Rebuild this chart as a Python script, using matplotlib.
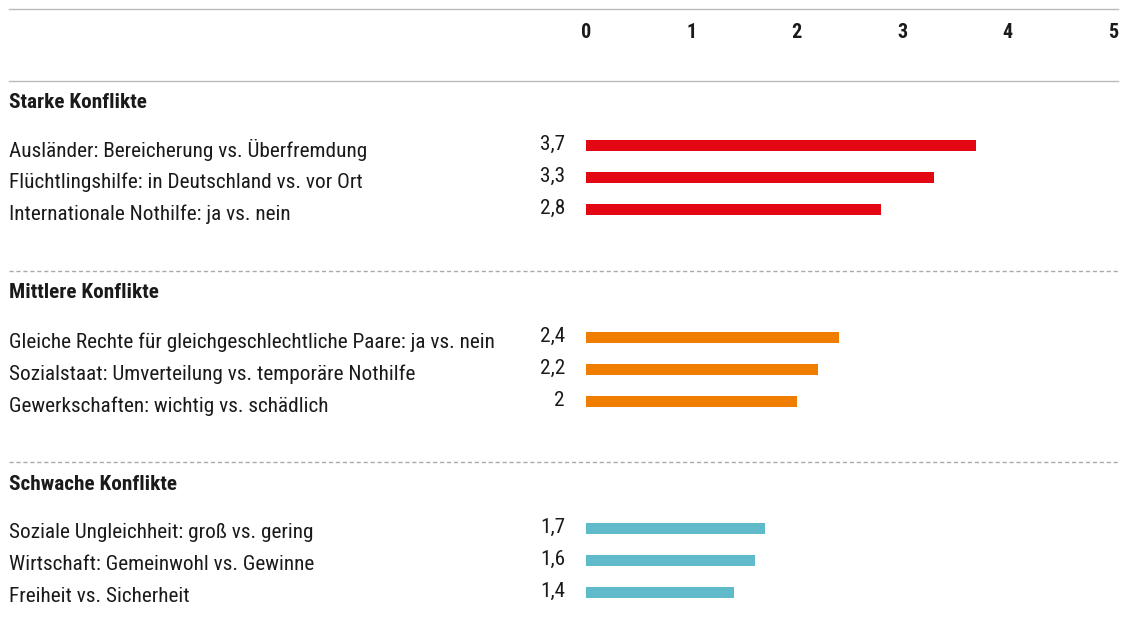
import matplotlib
matplotlib.use("Agg")
import matplotlib.pyplot as plt
from matplotlib import font_manager
from matplotlib.transforms import blended_transform_factory
from matplotlib.lines import Line2D

names = {f.name for f in font_manager.fontManager.ttflist}
fam = [f for f in ["Liberation Sans Narrow", "Roboto Condensed", "Open Sans Condensed", "Liberation Sans", "DejaVu Sans"] if f in names]
plt.rcParams['font.family'] = fam

groups = ["Starke Konflikte", "Mittlere Konflikte", "Schwache Konflikte"]
categories = [
    ["Ausländer: Bereicherung vs. Überfremdung",
     "Flüchtlingshilfe: in Deutschland vs. vor Ort",
     "Internationale Nothilfe: ja vs. nein"],
    ["Gleiche Rechte für gleichgeschlechtliche Paare: ja vs. nein",
     "Sozialstaat: Umverteilung vs. temporäre Nothilfe",
     "Gewerkschaften: wichtig vs. schädlich"],
    ["Soziale Ungleichheit: groß vs. gering",
     "Wirtschaft: Gemeinwohl vs. Gewinne",
     "Freiheit vs. Sicherheit"],
]
values = [[3.7, 3.3, 2.8], [2.4, 2.2, 2.0], [1.7, 1.6, 1.4]]
value_labels = [["3,7", "3,3", "2,8"], ["2,4", "2,2", "2"], ["1,7", "1,6", "1,4"]]
colors = ["#e30613", "#f07d00", "#5fbbc9"]
ticks = [0, 1, 2, 3, 4, 5]

W, H = 1130, 635
fig = plt.figure(figsize=(W / 100, H / 100), dpi=100)
x0, x5 = 586, 1113
ax = fig.add_axes([x0 / W, 0, (x5 - x0) / W, 1])
ax.set_xlim(0, 5)
ax.set_ylim(H, 0)
ax.axis("off")

tr = blended_transform_factory(fig.transFigure, ax.transData)

# tick labels
for t in ticks:
    ax.text(t, 32, str(t), ha="center", va="center", fontsize=14.5, fontweight="bold", color="#1a1a1a")

# lines
def hline(y, dashed=False):
    ln = Line2D([9 / W, 1118 / W], [y, y], transform=tr, color="#aaaaaa" if dashed else "#bbbbbb",
                lw=1.0, linestyle=(0, (3, 2)) if dashed else "-", clip_on=False)
    fig.add_artist(ln)

hline(9)
hline(81)

group_base = [145, 337, 528]
header_y = [102, 293, 484]
sep_y = [None, 271, 462]
step = 32
bh = 11

for g, name in enumerate(groups):
    if sep_y[g] is not None:
        hline(sep_y[g], dashed=True)
    ax.text(9 / W, header_y[g], name, transform=tr, ha="left", va="center",
            fontsize=15.3, fontweight="bold", color="#1a1a1a")
    ys = [group_base[g] + i * step for i in range(len(values[g]))]
    ax.barh(ys, values[g], height=bh, color=colors[g], left=0)
    for y, cat, lab in zip(ys, categories[g], value_labels[g]):
        ax.text(9 / W, y + 5, cat, transform=tr, ha="left", va="center", fontsize=15.3, color="#1a1a1a")
        ax.text(565 / W, y - 1, lab, transform=tr, ha="right", va="center", fontsize=15.3, color="#1a1a1a")

fig.savefig("out.png", dpi=100)
